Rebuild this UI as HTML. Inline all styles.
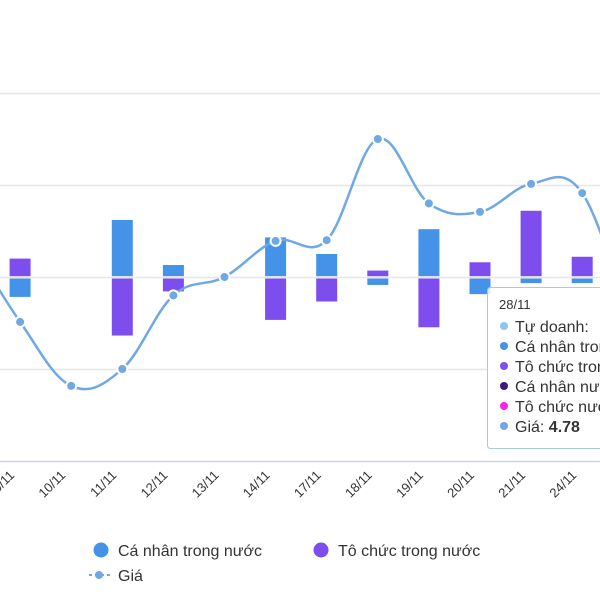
<!DOCTYPE html>
<html><head><meta charset="utf-8"><style>
body{margin:0;background:#fff;width:600px;height:600px;overflow:hidden;font-family:"Liberation Sans",sans-serif;}
</style></head><body>
<svg id="chart" width="600" height="600" xmlns="http://www.w3.org/2000/svg" style="position:absolute;left:0;top:0">
<g id="grid"></g><g id="bars"></g><g id="line"></g><g id="xlabels"></g>
<g id="legend">
 <g><circle cx="101" cy="550" r="7.5" fill="#4493e8"/><text x="118" y="556" font-size="16" fill="#333">Cá nhân trong nước</text></g>
 <g><circle cx="321" cy="550" r="7.5" fill="#7e4ded"/><text x="338" y="556" font-size="16" fill="#333">Tô chức trong nước</text></g>
 <g><line x1="89" y1="575" x2="110" y2="575" stroke="#6fa8e4" stroke-width="2" stroke-dasharray="3,3"/><circle cx="99" cy="575" r="4" fill="#6fa8e4"/><text x="118" y="581" font-size="16" fill="#333">Giá</text></g>
</g>
<g id="tooltip">
 <rect x="487.5" y="287.5" width="130" height="161" rx="3" fill="rgba(255,255,255,0.85)" stroke="#a9c8ea" stroke-width="1"/>
 <text x="499" y="309" font-size="13" fill="#333">28/11</text>
 <circle cx="504" cy="326" r="4" fill="#8cc6f2"/><text x="515" y="332" font-size="16" fill="#333">Tự doanh:</text>
 <circle cx="504" cy="346" r="4" fill="#4493e8"/><text x="515" y="352" font-size="16" fill="#333">Cá nhân trong</text>
 <circle cx="504" cy="366" r="4" fill="#7e4ded"/><text x="515" y="372" font-size="16" fill="#333">Tô chức trong</text>
 <circle cx="504" cy="386" r="4" fill="#3a1a7a"/><text x="515" y="392" font-size="16" fill="#333">Cá nhân nước</text>
 <circle cx="504" cy="406" r="4" fill="#ff22ee"/><text x="515" y="412" font-size="16" fill="#333">Tô chức nước</text>
 <circle cx="504" cy="426" r="4" fill="#6fa8e4"/><text x="515" y="432" font-size="16" fill="#333">Giá: <tspan font-weight="bold">4.78</tspan></text>
</g>
</svg>
<script>
const categories=["8/11","9/11","10/11","11/11","12/11","13/11","14/11","17/11","18/11","19/11","20/11","21/11","24/11","25/11"];
const caNhan=[0,-20,0,62,13,0,43,25,-7,52,-17,-5,-5,-10];
const toChuc=[0,20,0,-62,-14,0,-45,-25,7,-53,16,72,22,10];
const gia=[5.1,4.878,4.704,4.75,4.95,5.0,5.098,5.1,5.375,5.2,5.177,5.253,5.228,4.85];
const gridVals=[-200,-100,0,100,200];
const NS="http://www.w3.org/2000/svg";
function xPos(i){return -31+i*51.1;}
function yBar(v){return 277-v*0.92;}
function yPrice(p){return 277-(p-5.0)*368;}
function mk(tag,attrs,parent){const e=document.createElementNS(NS,tag);for(const k in attrs)e.setAttribute(k,attrs[k]);document.getElementById(parent).appendChild(e);return e;}
gridVals.forEach(v=>{const y=Math.round(yBar(v))+0.5;
 const l=mk('line',{x1:0,x2:600,y1:y,y2:y,stroke:v===-200?'#ccd6eb':'#e6e6e6','stroke-width':1.5},'grid');
 
 });
categories.forEach((c,i)=>{
 const x=xPos(i);
 [[caNhan[i],'#4493e8','bar-ca-nhan'],[toChuc[i],'#7e4ded','bar-to-chuc']].forEach(([v,col,nm])=>{
  if(!v)return;const y0=yBar(0),y1=yBar(v);
  const top=Math.min(y0,y1)+(v>0?0:1.5);
  const r=mk('rect',{x:x-10.5,y:top,width:21,height:Math.abs(y1-y0)-(v>0?0.8:0),fill:col},'bars');
  
  });
 const ax=x-5,ay=476;
 const t=mk('text',{x:ax,y:ay,'font-size':13,fill:'#333','text-anchor':'end',transform:`rotate(-45 ${ax} ${ay})`},'xlabels');
 t.textContent=c;
 
 
});
const pts=gia.map((p,i)=>[xPos(i),yPrice(p)]);
let d=`M${pts[0][0]},${pts[0][1]}`;
for(let i=0;i<pts.length-1;i++){const p0=pts[Math.max(0,i-1)],p1=pts[i],p2=pts[i+1],p3=pts[Math.min(pts.length-1,i+2)];
 const k=0.18;d+=` C${p1[0]+(p2[0]-p0[0])*k},${p1[1]+(p2[1]-p0[1])*k} ${p2[0]-(p3[0]-p1[0])*k},${p2[1]-(p3[1]-p1[1])*k} ${p2[0]},${p2[1]}`;}
const pl=mk('path',{d:d,fill:'none',stroke:'#6fa8e4','stroke-width':2.5},'line');


pts.forEach(p=>{const c=mk('circle',{cx:p[0],cy:p[1],r:5,fill:'#6fa8e4',stroke:'#fff','stroke-width':2},'line');
 
 });
</script>
</body></html>
